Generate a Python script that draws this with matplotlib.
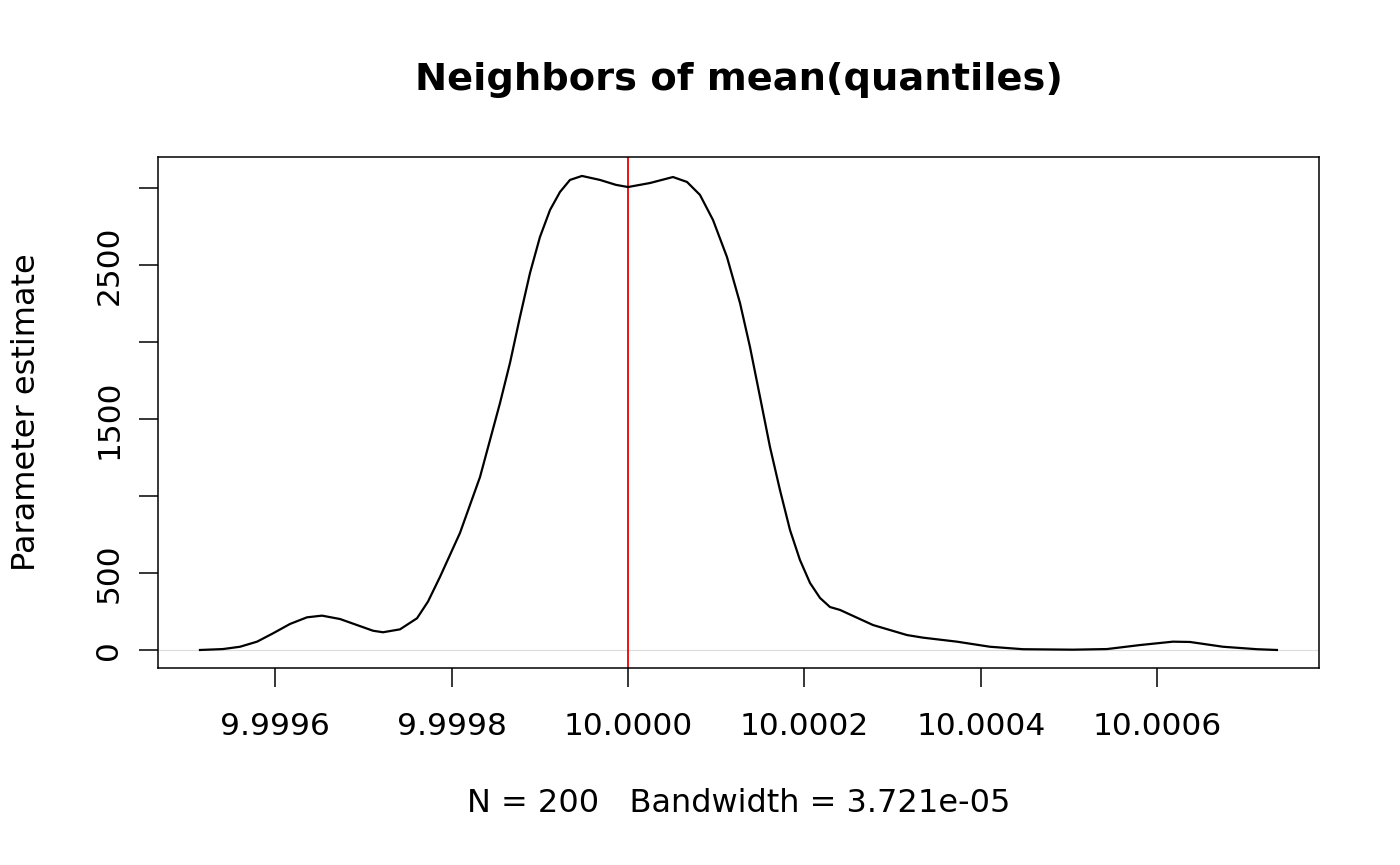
import numpy as np
import matplotlib
matplotlib.use('Agg')
import matplotlib.pyplot as plt

# density curve
x_vals = [9.9995147, 9.9995408, 9.9995601, 9.9995794, 9.9995975, 9.9996168,
          9.9996360, 9.9996531, 9.9996735, 9.9996927, 9.9997109, 9.9997222,
          9.9997415, 9.9997608, 9.9997732, 9.9997868, 9.9998095, 9.9998322,
          9.9998549, 9.9998662, 9.9998775, 9.9998889, 9.9999002, 9.9999116,
          9.9999229, 9.9999342, 9.9999478, 9.9999683, 9.9999864, 10.0000000,
          10.0000249, 10.0000510, 10.0000669, 10.0000816, 10.0000964, 10.0001122,
          10.0001270, 10.0001383, 10.0001497, 10.0001610, 10.0001723, 10.0001837,
          10.0001950, 10.0002064, 10.0002177, 10.0002290, 10.0002404, 10.0002778,
          10.0003163, 10.0003345, 10.0003730, 10.0004104, 10.0004479, 10.0005045,
          10.0005431, 10.0005805, 10.0006179, 10.0006372, 10.0006746, 10.0007132,
          10.0007358]
density = [0, 6, 21, 54, 108, 169,
           212, 223, 201, 162, 125, 115,
           134, 206, 314, 474, 760, 1123,
           1604, 1864, 2162, 2448, 2682, 2857,
           2974, 3052, 3078, 3052, 3020, 3006,
           3032, 3071, 3039, 2955, 2792, 2552,
           2253, 1968, 1643, 1318, 1039, 779,
           584, 435, 338, 279, 260, 162,
           97, 80, 54, 21, 5, 2,
           6, 32, 54, 52, 21, 5,
           0]

mean_q = 10.0
x_ticks = [9.9996, 9.9998, 10.0000, 10.0002, 10.0004, 10.0006]
x_labels = ['9.9996', '9.9998', '10.0000', '10.0002', '10.0004', '10.0006']
y_ticks = [0, 500, 1000, 1500, 2000, 2500, 3000]
y_labels = ['0', '500', '', '1500', '', '2500', '']

title = 'Neighbors of mean(quantiles)'
xlab = 'N = 200   Bandwidth = 3.721e-05'
ylab = 'Parameter estimate'

plt.rcParams['font.family'] = ['DejaVu Sans']

fig = plt.figure(figsize=(14, 8.65), dpi=100)
ax = fig.add_axes([158/1400, 197/865, 1161/1400, 511/865])

ax.axhline(0, color='#dcdcdc', lw=0.8, zorder=1)
ax.plot(x_vals, density, color='black', lw=1.6, zorder=3)
ax.axvline(mean_q, color='#ee0000', lw=1.3, zorder=2)

ax.set_xlim(9.9994671, 10.0007835)
ax.set_ylim(-117, 3201)

ax.set_xticks(x_ticks)
ax.set_xticklabels(x_labels)
ax.set_yticks(y_ticks)
ax.set_yticklabels(y_labels, rotation=90, va='center')

ax.tick_params(axis='both', direction='out', length=14, width=1.1,
               labelsize=22.5)
ax.tick_params(axis='x', pad=18)
ax.tick_params(axis='y', pad=11)
for s in ax.spines.values():
    s.set_linewidth(1.1)

fig.text(739/1400, 1 - 80/865, title, ha='center', va='center',
         fontsize=27.6, fontweight='bold')
fig.text(739/1400, 1 - 803/865, xlab, ha='center', va='center', fontsize=23)
fig.text(27/1400, 1 - 412/865, ylab, ha='center', va='center', fontsize=23,
         rotation=90)

fig.savefig('out.png', dpi=100)
